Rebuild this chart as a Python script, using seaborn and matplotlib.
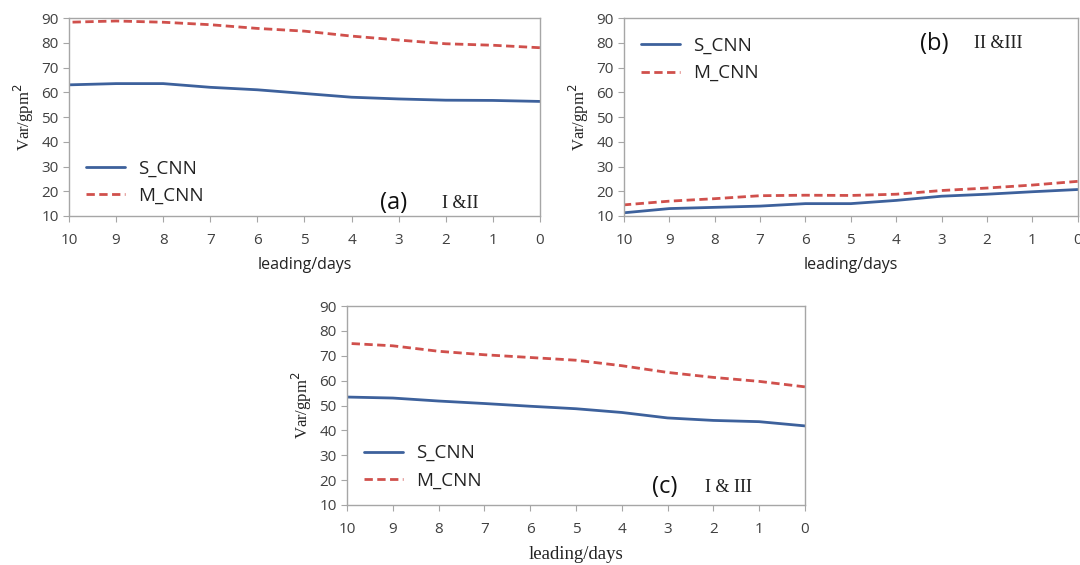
import pandas as pd
import matplotlib.pyplot as plt
import seaborn as sns

# lead time (days), x axis runs from 10 down to 0
days = [10, 9, 8, 7, 6, 5, 4, 3, 2, 1, 0]

# (a) I & II
a_s_cnn = [63.0, 63.5, 63.5, 62.0, 61.0, 59.5, 58.0, 57.3, 56.8, 56.7, 56.3]
a_m_cnn = [88.3, 88.8, 88.3, 87.3, 85.8, 84.7, 82.7, 81.1, 79.6, 79.0, 78.0]

# (b) II & III
b_s_cnn = [11.3, 13.0, 13.5, 14.0, 15.0, 15.0, 16.3, 18.0, 18.8, 19.8, 20.7]
b_m_cnn = [14.5, 16.0, 17.0, 18.2, 18.4, 18.3, 18.8, 20.3, 21.3, 22.5, 24.0]

# (c) I & III
c_s_cnn = [53.4, 53.0, 51.8, 50.8, 49.7, 48.7, 47.2, 45.0, 44.0, 43.5, 41.8]
c_m_cnn = [75.0, 74.0, 71.8, 70.4, 69.3, 68.2, 66.0, 63.3, 61.3, 59.7, 57.5]

y_ticks = [10, 20, 30, 40, 50, 60, 70, 80, 90]

sns.set_style("ticks")
plt.rcParams['font.family'] = ['Open Sans', 'DejaVu Sans']

BLUE = "#3D619C"
RED = "#D0504C"
SPINE = "#A6A6A6"
TXT = "#404040"


def draw_panel(ax, s_vals, m_vals, tag, pair, legend_pos, tag_pos, serif_xlabel=False):
    df = pd.DataFrame({"days": days * 2,
                       "var": s_vals + m_vals,
                       "model": ["S_CNN"] * len(days) + ["M_CNN"] * len(days)})
    sns.lineplot(data=df, x="days", y="var", hue="model", style="model",
                 palette={"S_CNN": BLUE, "M_CNN": RED},
                 dashes={"S_CNN": "", "M_CNN": (3, 1.6)},
                 linewidth=2, ax=ax)
    ax.set_xlim(10, 0)
    ax.set_ylim(10, 90)
    ax.set_xticks(days)
    ax.set_yticks(y_ticks)
    ax.tick_params(colors=SPINE, labelcolor=TXT, labelsize=11, length=4)
    ax.tick_params(axis="x", pad=8)
    for sp in ax.spines.values():
        sp.set_color(SPINE)
        sp.set_linewidth(1)
    ax.set_ylabel("Var/gpm$^2$", family="Liberation Serif", fontsize=12, color="#222222")
    if serif_xlabel:
        ax.set_xlabel("leading/days", family="Liberation Serif", fontsize=13.5,
                      color="#222222", labelpad=7)
    else:
        ax.set_xlabel("leading/days", fontsize=11.5, color="#222222", labelpad=7)
    leg = ax.legend(loc="upper left", bbox_to_anchor=legend_pos, frameon=False,
                    fontsize=13.5, handlelength=2.1, handletextpad=0.7,
                    labelspacing=0.5)
    for t in leg.get_texts():
        t.set_color("#222222")
    ax.text(tag_pos[0], tag_pos[1], tag, transform=ax.transAxes, fontsize=17,
            ha="center", va="center", color="#111111")
    ax.text(tag_pos[0] + 0.14, tag_pos[1], pair, transform=ax.transAxes,
            family="Liberation Serif", fontsize=13, ha="center", va="center",
            color="#222222")


fig = plt.figure(figsize=(10.8, 5.65), dpi=100)
ax_a = fig.add_axes([0.0639, 0.6177, 0.436, 0.3504])
ax_b = fig.add_axes([0.5778, 0.6177, 0.420, 0.3504])
ax_c = fig.add_axes([0.3213, 0.1062, 0.424, 0.3522])

draw_panel(ax_a, a_s_cnn, a_m_cnn, "(a)", "I &II", (0.0, 0.37), (0.69, 0.065))
draw_panel(ax_b, b_s_cnn, b_m_cnn, "(b)", "II &III", (0.0, 0.99), (0.685, 0.87))
draw_panel(ax_c, c_s_cnn, c_m_cnn, "(c)", "I & III", (0.0, 0.39), (0.694, 0.09),
           serif_xlabel=True)

fig.savefig("out.png", dpi=100)
